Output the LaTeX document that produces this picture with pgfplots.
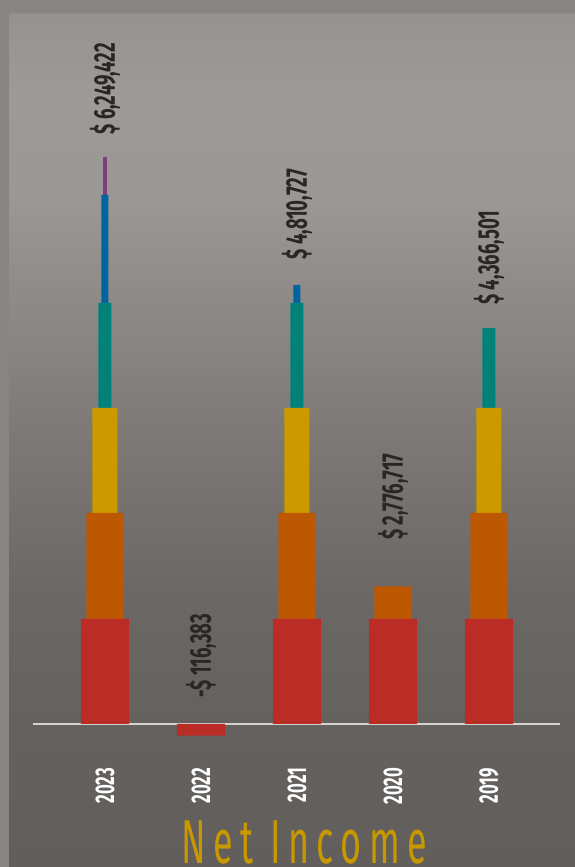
\documentclass[border=0pt]{standalone}
\usepackage{pgfplots}
\pgfplotsset{compat=1.18}
\usepackage{fontspec}
\setmainfont{Fira Sans}
\newfontfamily\labfont[FakeStretch=0.62]{Fira Sans}
\newfontfamily\titfont[FakeStretch=0.58,LetterSpace=12]{Fira Sans}
\definecolor{cRed}{RGB}{186,45,39}
\definecolor{cOrange}{RGB}{190,87,2}
\definecolor{cYellow}{RGB}{203,154,0}
\definecolor{cTeal}{RGB}{0,130,122}
\definecolor{cBlue}{RGB}{0,100,160}
\definecolor{cPurple}{RGB}{125,62,125}
\definecolor{labcol}{RGB}{43,38,35}
\definecolor{titcol}{RGB}{200,152,0}
\definecolor{stripcol}{RGB}{136,132,130}
\definecolor{basecol}{RGB}{212,210,208}
\pgfdeclareverticalshading{bgshade}{100bp}{%
color(0bp)=(rgb,255:red,97;green,94;blue,92);
color(25bp)=(rgb,255:red,97;green,94;blue,92);
color(33.3bp)=(rgb,255:red,100;green,97;blue,95);
color(40.4bp)=(rgb,255:red,106;green,103;blue,101);
color(49.05bp)=(rgb,255:red,122;green,119;blue,117);
color(57.7bp)=(rgb,255:red,142;green,138;blue,136);
color(63.47bp)=(rgb,255:red,155;green,151;blue,149);
color(69.23bp)=(rgb,255:red,158;green,154;blue,152);
color(74.2bp)=(rgb,255:red,150;green,146;blue,144);
color(74.3bp)=(rgb,255:red,137;green,133;blue,131);
color(75bp)=(rgb,255:red,137;green,133;blue,131);
color(100bp)=(rgb,255:red,137;green,133;blue,131)}
\begin{document}
\begin{tikzpicture}
\begin{axis}[
  scale only axis, width=287.5pt, height=433.5pt,
  xmin=-1.09375, xmax=4.8958, ymin=-1.3619, ymax=6.8952,
  axis line style={draw=none}, tick style={draw=none}, ytick=\empty,
  xtick={0,1,2,3,4}, xticklabels={2023,2022,2021,2020,2019},
  xticklabel style={inner sep=0pt, yshift=54pt, rotate=90, anchor=east,
    font=\labfont\bfseries\fontsize{13.5}{14}\selectfont, text=white},
  axis background/.style={shading=bgshade},
  ybar, bar shift=0pt,
  clip=false,
]
\coordinate (bl) at (rel axis cs:0,0);
\coordinate (tr) at (rel axis cs:1,1);
\fill[stripcol] (rel axis cs:0,0) rectangle (rel axis cs:0.01565,1);
\draw[basecol, line width=1.25pt] (axis cs:-0.75,0) -- (axis cs:4.74,0);
% cumulative tops of each tier (tier height 1 unit), narrowest drawn first
\addplot[fill=cPurple, draw=none, bar width=2pt] coordinates {(0,5.40)};
\addplot[fill=cBlue, draw=none, bar width=3.5pt] coordinates {(0,5.04) (2,4.18)};
\addplot[fill=cTeal, draw=none, bar width=6.5pt] coordinates {(0,4.01) (2,4.01) (4,3.77)};
\addplot[fill=cYellow, draw=none, bar width=12.5pt] coordinates {(0,3.01) (2,3.01) (4,3.01)};
\addplot[fill=cOrange, draw=none, bar width=18.5pt] coordinates {(0,2.01) (2,2.01) (3,1.31) (4,2.01)};
\addplot[fill=cRed, draw=none, bar width=24pt] coordinates {(0,1.0) (1,-0.11) (2,1.0) (3,1.0) (4,1.0)};
\begin{scope}[every node/.style={rotate=90, anchor=west, inner sep=0pt, text=labcol, font=\labfont\bfseries\fontsize{15}{16}\selectfont}]
\node at (axis cs:0,5.61) {\$ 6,249,422};
\node at (axis cs:1,0.25) {-\$ 116,383};
\node at (axis cs:2,4.42) {\$ 4,810,727};
\node at (axis cs:3,1.75) {\$ 2,776,717};
\node at (axis cs:4,3.99) {\$ 4,366,501};
\end{scope}
\node[anchor=base, inner sep=0pt, text=titcol, font=\titfont\fontsize{31}{32}\selectfont] at (axis cs:2.073,-1.325) {Net Income};
\end{axis}
\pgfresetboundingbox
\path[use as bounding box] (bl) rectangle (tr);
\end{tikzpicture}
\end{document}
